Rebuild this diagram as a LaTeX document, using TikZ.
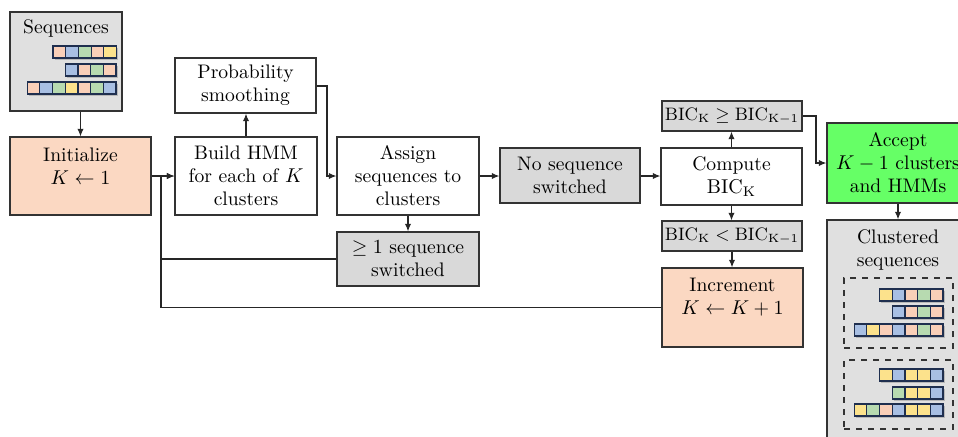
\documentclass[tikz,border=0pt]{standalone}
\usetikzlibrary{arrows.meta}
\definecolor{peach}{HTML}{FBD8C2}
\definecolor{cpeach}{HTML}{F9CFB8}
\definecolor{cblue}{HTML}{A8BFE3}
\definecolor{cgreen}{HTML}{B7DAB0}
\definecolor{cyellow}{HTML}{FCE28C}
\definecolor{navy}{HTML}{1F2F4F}
\definecolor{greybox}{HTML}{E0E0E0}
\definecolor{greyfill}{HTML}{D9D9D9}
\definecolor{accgreen}{HTML}{66FF66}
\definecolor{edgecol}{HTML}{333333}
\definecolor{shadowgrey}{HTML}{B8B8B8}
\newcommand\cellrow[3]{%
  \foreach \cc [count=\i] in {#3} {\fill[shadowgrey] ({#1+(\i-1)*12.7+1.5},{#2+2}) rectangle ++(12.7,12);}
  \foreach \cc [count=\i] in {#3} {\filldraw[fill=\cc,draw=navy,line width=0.6pt] ({#1+(\i-1)*12.7},#2) rectangle ++(12.7,12);}
}
\begin{document}
\begin{tikzpicture}[x=0.5pt,y=-0.5pt,
  font=\fontsize{9.8}{11.5}\selectfont,
  box/.style={draw=edgecol,line width=0.6pt,inner sep=0pt,align=center},
  txt/.style={align=center,inner sep=0pt},
  arr/.style={draw=black!85,line width=0.6pt,-{Latex[length=3.8pt,width=3.2pt]}},
  conn/.style={draw=black!85,line width=0.6pt}]
\clip (0,0) rectangle (958,436);
% Sequences
\node[box,fill=greybox,minimum width=56pt,minimum height=49.5pt] (seqbox) at (66,61.5) {};
\node[txt] (seqtxt) at (66,28) {Sequences};
\cellrow{53}{46}{cpeach,cblue,cgreen,cpeach,cyellow}
\cellrow{65.2}{64}{cblue,cpeach,cgreen,cpeach}
\cellrow{27.1}{82}{cpeach,cblue,cgreen,cyellow,cpeach,cgreen,cblue}
% Initialize
\node[box,fill=peach,minimum width=70.5pt,minimum height=39pt] (init) at (80.5,176) {};
\node[txt] (inittxt) at (80.5,166.5) {Initialize\\$K \leftarrow 1$};
% Build HMM
\node[box,fill=white,minimum width=71pt,minimum height=39pt] (build) at (246,176) {Build HMM\\for each of $K$\\clusters};
% Probability smoothing
\node[box,fill=white,minimum width=70.5pt,minimum height=27.5pt] (prob) at (245.5,85.5) {Probability\\smoothing};
% Assign
\node[box,fill=white,minimum width=71pt,minimum height=39pt] (assign) at (408,176) {Assign\\sequences to\\clusters};
% No sequence switched
\node[box,fill=greyfill,minimum width=70pt,minimum height=27.5pt] (noseq) at (570,175.5) {No sequence\\switched};
% >= 1 sequence switched
\node[box,fill=greyfill,minimum width=71pt,minimum height=27pt] (ge1) at (408,259) {$\geq 1$ sequence\\switched};
% Compute BIC
\node[box,fill=white,minimum width=70.5pt,minimum height=28.5pt] (compute) at (731.5,176.5) {Compute\\$\mathrm{BIC}_{\mathrm{K}}$};
\node[box,fill=greyfill,minimum width=70pt,minimum height=15pt,font=\fontsize{8.8}{11}\selectfont] (bicge) at (732,116) {$\mathrm{BIC}_{\mathrm{K}} \geq \mathrm{BIC}_{\mathrm{K}-1}$};
\node[box,fill=greyfill,minimum width=70pt,minimum height=15pt,font=\fontsize{8.8}{11}\selectfont] (biclt) at (732,236) {$\mathrm{BIC}_{\mathrm{K}} < \mathrm{BIC}_{\mathrm{K}-1}$};
% Increment
\node[box,fill=peach,minimum width=70.5pt,minimum height=39.5pt] (incr) at (732.5,307.5) {};
\node[txt] (incrtxt) at (732.5,297) {Increment\\$K \leftarrow K + 1$};
% Accept
\node[box,fill=accgreen,minimum width=71pt,minimum height=40pt] (accept) at (898,163) {Accept\\$K-1$ clusters\\and HMMs};
% Clustered sequences
\node[box,fill=greybox,minimum width=71pt,minimum height=115pt] (clus) at (898,335) {};
\node[txt] (clustxt) at (898,249.5) {Clustered\\sequences};
\node[draw=edgecol,line width=0.6pt,dashed,minimum width=54.5pt,minimum height=35pt,inner sep=0pt] (grp1) at (898.5,313) {};
\node[draw=edgecol,line width=0.6pt,dashed,minimum width=54.5pt,minimum height=34.5pt,inner sep=0pt] (grp2) at (898.5,394.5) {};
\cellrow{879.5}{289}{cyellow,cblue,cpeach,cgreen,cpeach}
\cellrow{892.2}{306}{cblue,cpeach,cgreen,cpeach}
\cellrow{854.1}{324}{cblue,cyellow,cpeach,cblue,cpeach,cgreen,cpeach}
\cellrow{879.5}{369}{cyellow,cblue,cyellow,cyellow,cblue}
\cellrow{892.2}{387}{cgreen,cyellow,cyellow,cblue}
\cellrow{854.1}{404}{cyellow,cgreen,cpeach,cblue,cyellow,cyellow,cblue}
% junction coordinates
\coordinate (j) at (161,176);
\coordinate (pr) at (327,86);
\coordinate (br) at (816,116);
% connectors
\draw[arr] (seqbox.south -| init.north) -- (init.north);
\draw[arr] (init.east) -- (build.west);
\draw[arr] (build.north) -- (build.north |- prob.south);
\draw[arr] (prob.east |- pr) -- (pr) |- (assign.west);
\draw[arr] (assign.east) -- (assign.east -| noseq.west);
\draw[arr] (noseq.east |- j) -- (compute.west |- j);
\draw[arr] (assign.south) -- (ge1.north);
\draw[arr] (ge1.west) -| (j) -- (build.west);
\draw[conn] (incr.west) -| (ge1.west -| j);
\draw[arr] (compute.north) -- (compute.north |- bicge.south);
\draw[arr] (compute.south) -- (compute.south |- biclt.north);
\draw[arr] (biclt.south) -- (biclt.south |- incr.north);
\draw[arr] (bicge.east) -- (br) |- (accept.west);
\draw[arr] (accept.south) -- (clus.north);
\end{tikzpicture}
\end{document}
